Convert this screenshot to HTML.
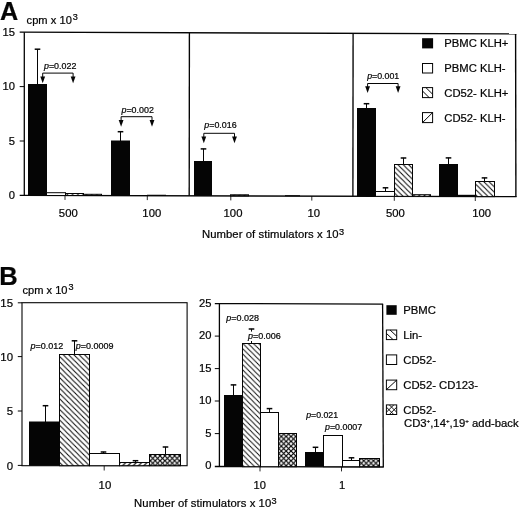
<!DOCTYPE html>
<html><head><meta charset="utf-8"><title>Figure</title>
<style>
html,body{margin:0;padding:0;background:#fff;}
body{width:520px;height:511px;overflow:hidden;font-family:"Liberation Sans",sans-serif;}
text{stroke:#050505;stroke-width:0.22px;}
svg{display:block;will-change:transform;font-family:"Liberation Sans",sans-serif;fill:#050505;}
</style></head><body>
<svg width="520" height="511" viewBox="0 0 520 511">
<defs>
<pattern id="hb" patternUnits="userSpaceOnUse" width="5.3" height="5.3">
<rect width="5.3" height="5.3" fill="#fff"/>
<path d="M-1,-1 L6.3,6.3 M-1,4.3 L1,6.3 M4.3,-1 L6.3,1" stroke="#050505" stroke-width="1.0" fill="none"/>
</pattern>
<pattern id="hb2" patternUnits="userSpaceOnUse" width="5.3" height="5.3">
<rect width="5.3" height="5.3" fill="#fff"/>
<path d="M-1,-1 L6.3,6.3 M-1,4.3 L1,6.3 M4.3,-1 L6.3,1" stroke="#050505" stroke-width="0.9" fill="none"/>
</pattern>
<pattern id="hf" patternUnits="userSpaceOnUse" width="5.3" height="5.3">
<rect width="5.3" height="5.3" fill="#fff"/>
<path d="M-1,6.3 L6.3,-1 M-1,1 L1,-1 M4.3,6.3 L6.3,4.3" stroke="#050505" stroke-width="1.12" fill="none"/>
</pattern>
<pattern id="hx" patternUnits="userSpaceOnUse" width="4.85" height="4.85">
<rect width="4.85" height="4.85" fill="#fff"/>
<path d="M-1,-1 L5.85,5.85 M-1,5.85 L5.85,-1" stroke="#050505" stroke-width="1.18" fill="none"/>
</pattern>
</defs>
<rect width="520" height="511" fill="#fff"/>
<text x="-0.1" y="19.9" font-size="25.2" font-weight="bold">A</text>
<text x="26.6" y="24.4" font-size="11.1" textLength="45.2" lengthAdjust="spacing">cpm x 10</text>
<text x="72.7" y="20.3" font-size="9.1">3</text>
<line x1="19.7" y1="32.2" x2="516.4" y2="33.9" stroke="#050505" stroke-width="1.3"/>
<line x1="19.7" y1="195.35" x2="516.6" y2="196.65" stroke="#050505" stroke-width="1.35"/>
<line x1="24.3" y1="32.2" x2="24.3" y2="195.4" stroke="#050505" stroke-width="1.3"/>
<line x1="515.6" y1="33.9" x2="515.9" y2="196.65" stroke="#050505" stroke-width="1.4"/>
<line x1="189.4" y1="32.8" x2="189.2" y2="195.8" stroke="#050505" stroke-width="1.35"/>
<line x1="353.1" y1="33.3" x2="352.9" y2="196.2" stroke="#050505" stroke-width="1.35"/>
<text x="15.0" y="35.900000000000006" font-size="11.2" text-anchor="end" >15</text>
<line x1="19.7" y1="86.6" x2="24.3" y2="86.6" stroke="#050505" stroke-width="1.0"/>
<text x="15.0" y="90.3" font-size="11.2" text-anchor="end" >10</text>
<line x1="19.7" y1="141.0" x2="24.3" y2="141.0" stroke="#050505" stroke-width="1.0"/>
<text x="15.0" y="144.7" font-size="11.2" text-anchor="end" >5</text>
<text x="15.0" y="199.1" font-size="11.2" text-anchor="end" >0</text>
<line x1="65" y1="195.4" x2="65" y2="199.9" stroke="#050505" stroke-width="0.85"/>
<line x1="147.3" y1="195.6" x2="147.3" y2="200.1" stroke="#050505" stroke-width="0.85"/>
<line x1="230.8" y1="195.9" x2="230.8" y2="200.4" stroke="#050505" stroke-width="0.85"/>
<line x1="311.8" y1="196.1" x2="311.8" y2="200.6" stroke="#050505" stroke-width="0.85"/>
<line x1="394.3" y1="196.3" x2="394.3" y2="200.8" stroke="#050505" stroke-width="0.85"/>
<line x1="475.3" y1="196.5" x2="475.3" y2="201.0" stroke="#050505" stroke-width="0.85"/>
<text x="68.3" y="217.4" font-size="11.3" text-anchor="middle" >500</text>
<text x="151.8" y="217.4" font-size="11.3" text-anchor="middle" >100</text>
<text x="233" y="217.4" font-size="11.3" text-anchor="middle" >100</text>
<text x="313.8" y="217.4" font-size="11.3" text-anchor="middle" >10</text>
<text x="395.4" y="217.4" font-size="11.3" text-anchor="middle" >500</text>
<text x="481.6" y="217.4" font-size="11.3" text-anchor="middle" >100</text>
<text x="201.9" y="238.1" font-size="11.3" textLength="136.7" lengthAdjust="spacing">Number of stimulators x 10</text>
<text x="338.9" y="234.5" font-size="9.2">3</text>
<line x1="37.5" y1="49" x2="37.5" y2="90" stroke="#050505" stroke-width="1.0"/>
<line x1="34.7" y1="49.2" x2="40.3" y2="49.2" stroke="#050505" stroke-width="1.5"/>
<rect x="28" y="84.0" width="19" height="111.5" fill="#050505"/>
<rect x="46.5" y="192.7" width="19.0" height="2.8" fill="#fff" stroke="#050505" stroke-width="1.0"/>
<rect x="65.5" y="193.5" width="18.0" height="2.0" fill="url(#hb)" stroke="#050505" stroke-width="1.0"/>
<rect x="83.5" y="194.3" width="18.0" height="1.2" fill="url(#hf)" stroke="#050505" stroke-width="1.0"/>
<line x1="120.5" y1="131.5" x2="120.5" y2="145" stroke="#050505" stroke-width="1.0"/>
<line x1="117.7" y1="131.7" x2="123.3" y2="131.7" stroke="#050505" stroke-width="1.5"/>
<rect x="111" y="140.5" width="19" height="55.15" fill="#050505"/>
<line x1="147" y1="195.3" x2="166" y2="195.35" stroke="#050505" stroke-width="1.2"/>
<line x1="203.5" y1="148.7" x2="203.5" y2="165" stroke="#050505" stroke-width="1.0"/>
<line x1="200.7" y1="148.89999999999998" x2="206.3" y2="148.89999999999998" stroke="#050505" stroke-width="1.5"/>
<rect x="194" y="161.0" width="18" height="34.9" fill="#050505"/>
<rect x="230.5" y="194.8" width="18.0" height="1.1" fill="url(#hf)" stroke="#050505" stroke-width="1.0"/>
<line x1="285" y1="195.7" x2="300" y2="195.75" stroke="#050505" stroke-width="1.0"/>
<line x1="366.5" y1="103.5" x2="366.5" y2="112" stroke="#050505" stroke-width="1.0"/>
<line x1="363.7" y1="103.7" x2="369.3" y2="103.7" stroke="#050505" stroke-width="1.5"/>
<rect x="357" y="108.0" width="19" height="88.35" fill="#050505"/>
<line x1="385.5" y1="187.6" x2="385.5" y2="191" stroke="#050505" stroke-width="1.0"/>
<line x1="382.7" y1="187.79999999999998" x2="388.3" y2="187.79999999999998" stroke="#050505" stroke-width="1.5"/>
<rect x="375.5" y="191.5" width="19.0" height="4.85" fill="#fff" stroke="#050505" stroke-width="1.0"/>
<line x1="403.5" y1="157.8" x2="403.5" y2="165" stroke="#050505" stroke-width="1.0"/>
<line x1="400.7" y1="158.0" x2="406.3" y2="158.0" stroke="#050505" stroke-width="1.5"/>
<rect x="394.5" y="164.5" width="18.0" height="31.85" fill="url(#hb)" stroke="#050505" stroke-width="1.0"/>
<rect x="412.5" y="194.7" width="18.0" height="1.65" fill="url(#hf)" stroke="#050505" stroke-width="1.0"/>
<line x1="448.5" y1="157.7" x2="448.5" y2="168" stroke="#050505" stroke-width="1.0"/>
<line x1="445.7" y1="157.89999999999998" x2="451.3" y2="157.89999999999998" stroke="#050505" stroke-width="1.5"/>
<rect x="439" y="164.0" width="19" height="32.6" fill="#050505"/>
<rect x="457.7" y="194.8" width="17.6" height="1.9" fill="#050505"/>
<line x1="484.5" y1="177.7" x2="484.5" y2="182" stroke="#050505" stroke-width="1.0"/>
<line x1="481.7" y1="177.89999999999998" x2="487.3" y2="177.89999999999998" stroke="#050505" stroke-width="1.5"/>
<rect x="475.5" y="181.5" width="19.0" height="15.1" fill="url(#hb)" stroke="#050505" stroke-width="1.0"/>
<line x1="42.7" y1="73.1" x2="73.1" y2="73.1" stroke="#050505" stroke-width="1.0"/>
<line x1="42.7" y1="73.1" x2="42.7" y2="79.0" stroke="#050505" stroke-width="1.0"/>
<path d="M40.3,76.4 L45.1,76.4 L42.7,83.3 Z" fill="#050505"/>
<line x1="73.1" y1="73.1" x2="73.1" y2="79.0" stroke="#050505" stroke-width="1.0"/>
<path d="M70.7,76.4 L75.5,76.4 L73.1,83.3 Z" fill="#050505"/>
<text x="44.0" y="68.9" font-size="8.9"><tspan font-style="italic">p</tspan>=0.022</text>
<line x1="121.1" y1="116.7" x2="152" y2="116.7" stroke="#050505" stroke-width="1.0"/>
<line x1="121.1" y1="116.7" x2="121.1" y2="122.5" stroke="#050505" stroke-width="1.0"/>
<path d="M118.7,119.9 L123.5,119.9 L121.1,126.8 Z" fill="#050505"/>
<line x1="152" y1="116.7" x2="152" y2="122.5" stroke="#050505" stroke-width="1.0"/>
<path d="M149.6,119.9 L154.4,119.9 L152,126.8 Z" fill="#050505"/>
<text x="121.5" y="112.7" font-size="8.9"><tspan font-style="italic">p</tspan>=0.002</text>
<line x1="203.8" y1="133.3" x2="234.5" y2="133.3" stroke="#050505" stroke-width="1.0"/>
<line x1="203.8" y1="133.3" x2="203.8" y2="139.0" stroke="#050505" stroke-width="1.0"/>
<path d="M201.4,136.4 L206.2,136.4 L203.8,143.3 Z" fill="#050505"/>
<line x1="234.5" y1="133.3" x2="234.5" y2="139.0" stroke="#050505" stroke-width="1.0"/>
<path d="M232.1,136.4 L236.9,136.4 L234.5,143.3 Z" fill="#050505"/>
<text x="204.3" y="128.1" font-size="8.9"><tspan font-style="italic">p</tspan>=0.016</text>
<line x1="367.6" y1="83.5" x2="398.1" y2="83.5" stroke="#050505" stroke-width="1.0"/>
<line x1="367.6" y1="83.5" x2="367.6" y2="88.8" stroke="#050505" stroke-width="1.0"/>
<path d="M365.2,86.2 L370.0,86.2 L367.6,93.1 Z" fill="#050505"/>
<line x1="398.1" y1="83.5" x2="398.1" y2="88.8" stroke="#050505" stroke-width="1.0"/>
<path d="M395.7,86.2 L400.5,86.2 L398.1,93.1 Z" fill="#050505"/>
<text x="367.2" y="78.6" font-size="8.8"><tspan font-style="italic">p</tspan>=0.001</text>
<rect x="422.1" y="38.2" width="11.0" height="10.2" fill="#050505"/>
<text x="444.3" y="47.0" font-size="11.25" text-anchor="start" >PBMC KLH+</text>
<rect x="422.5" y="63.5" width="10.1" height="9.5" fill="#fff" stroke="#050505" stroke-width="1.0"/>
<text x="444.3" y="71.9" font-size="11.25" text-anchor="start" >PBMC KLH-</text>
<rect x="422.5" y="87.6" width="10.1" height="10.0" fill="#fff" stroke="#050505" stroke-width="1.0"/>
<path d="M422.5,91.0 L429.17,97.6 M425.93,87.6 L432.6,94.2" stroke="#050505" stroke-width="1.0" fill="none"/>
<text x="444.3" y="96.6" font-size="11.25" text-anchor="start" >CD52- KLH+</text>
<rect x="422.5" y="112.6" width="10.1" height="10.0" fill="#fff" stroke="#050505" stroke-width="1.0"/>
<path d="M422.5,122.6 L432.6,112.6" stroke="#050505" stroke-width="1.0" fill="none"/>
<text x="444.3" y="121.5" font-size="11.25" text-anchor="start" >CD52- KLH-</text>
<text x="-0.8" y="284.8" font-size="25.5" font-weight="bold">B</text>
<text x="22.4" y="293.9" font-size="11.1" textLength="45.1" lengthAdjust="spacing">cpm x 10</text>
<text x="68.4" y="289.9" font-size="9.1">3</text>
<rect x="22.0" y="302.7" width="165.1" height="163.0" fill="none" stroke="#050505" stroke-width="1.1"/>
<line x1="17.8" y1="302.8" x2="22.0" y2="302.8" stroke="#050505" stroke-width="1.0"/>
<text x="13.0" y="306.90000000000003" font-size="11.4" text-anchor="end" >15</text>
<line x1="17.8" y1="356.6" x2="22.0" y2="356.6" stroke="#050505" stroke-width="1.0"/>
<text x="13.0" y="360.70000000000005" font-size="11.4" text-anchor="end" >10</text>
<line x1="17.8" y1="411.0" x2="22.0" y2="411.0" stroke="#050505" stroke-width="1.0"/>
<text x="13.0" y="415.1" font-size="11.4" text-anchor="end" >5</text>
<line x1="17.8" y1="465.4" x2="22.0" y2="465.4" stroke="#050505" stroke-width="1.0"/>
<text x="13.0" y="469.5" font-size="11.4" text-anchor="end" >0</text>
<line x1="104.2" y1="465.7" x2="104.2" y2="470.5" stroke="#050505" stroke-width="0.85"/>
<text x="104.9" y="489.2" font-size="11.4" text-anchor="middle" >10</text>
<line x1="45.5" y1="405.5" x2="45.5" y2="425" stroke="#050505" stroke-width="1.0"/>
<line x1="42.7" y1="405.7" x2="48.3" y2="405.7" stroke="#050505" stroke-width="1.5"/>
<rect x="29" y="421.5" width="30" height="44.2" fill="#050505"/>
<line x1="74.5" y1="340.6" x2="74.5" y2="355" stroke="#050505" stroke-width="1.0"/>
<line x1="71.7" y1="340.8" x2="77.3" y2="340.8" stroke="#050505" stroke-width="1.5"/>
<rect x="59.5" y="354.5" width="30.0" height="111.2" fill="url(#hb)" stroke="#050505" stroke-width="1.0"/>
<line x1="103.5" y1="451.8" x2="103.5" y2="453" stroke="#050505" stroke-width="1.0"/>
<line x1="100.7" y1="452.0" x2="106.3" y2="452.0" stroke="#050505" stroke-width="1.5"/>
<rect x="89.5" y="453.5" width="30.0" height="12.2" fill="#fff" stroke="#050505" stroke-width="1.0"/>
<line x1="135.5" y1="460.5" x2="135.5" y2="462" stroke="#050505" stroke-width="1.0"/>
<line x1="132.7" y1="460.7" x2="138.3" y2="460.7" stroke="#050505" stroke-width="1.5"/>
<rect x="119.5" y="462.5" width="30.0" height="3.2" fill="url(#hf)" stroke="#050505" stroke-width="1.0"/>
<line x1="165.5" y1="446.8" x2="165.5" y2="455" stroke="#050505" stroke-width="1.0"/>
<line x1="162.7" y1="447.0" x2="168.3" y2="447.0" stroke="#050505" stroke-width="1.5"/>
<rect x="149.5" y="454.5" width="31.0" height="11.2" fill="url(#hx)" stroke="#050505" stroke-width="1.0"/>
<text x="30.5" y="348.5" font-size="9.0"><tspan font-style="italic">p</tspan>=0.012</text>
<text x="75.8" y="348.5" font-size="9.0"><tspan font-style="italic">p</tspan>=0.0009</text>
<text x="134.0" y="507.2" font-size="11.3" textLength="137.3" lengthAdjust="spacing">Number of stimulators x 10</text>
<text x="271.6" y="503.5" font-size="9.2">3</text>
<line x1="214.8" y1="303.6" x2="383.1" y2="304.1" stroke="#050505" stroke-width="1.3"/>
<line x1="214.8" y1="466.5" x2="383.8" y2="466.95" stroke="#050505" stroke-width="1.35"/>
<line x1="219.4" y1="303.6" x2="219.4" y2="466.5" stroke="#050505" stroke-width="1.3"/>
<line x1="382.6" y1="304.1" x2="383.3" y2="466.95" stroke="#050505" stroke-width="1.3"/>
<text x="211.5" y="306.8" font-size="11.2" text-anchor="end" >25</text>
<line x1="214.8" y1="336.1" x2="219.4" y2="336.1" stroke="#050505" stroke-width="1.0"/>
<text x="211.5" y="339.3" font-size="11.2" text-anchor="end" >20</text>
<line x1="214.8" y1="368.6" x2="219.4" y2="368.6" stroke="#050505" stroke-width="1.0"/>
<text x="211.5" y="371.8" font-size="11.2" text-anchor="end" >15</text>
<line x1="214.8" y1="401.0" x2="219.4" y2="401.0" stroke="#050505" stroke-width="1.0"/>
<text x="211.5" y="404.2" font-size="11.2" text-anchor="end" >10</text>
<line x1="214.8" y1="433.6" x2="219.4" y2="433.6" stroke="#050505" stroke-width="1.0"/>
<text x="211.5" y="436.8" font-size="11.2" text-anchor="end" >5</text>
<text x="211.5" y="469.4" font-size="11.2" text-anchor="end" >0</text>
<line x1="260" y1="466.7" x2="260" y2="471.4" stroke="#050505" stroke-width="0.85"/>
<line x1="341.5" y1="466.7" x2="341.5" y2="471.4" stroke="#050505" stroke-width="0.85"/>
<text x="259.7" y="489.3" font-size="11.1" text-anchor="middle" >10</text>
<text x="342" y="489.3" font-size="11.2" text-anchor="middle" >1</text>
<line x1="233.5" y1="384.7" x2="233.5" y2="398" stroke="#050505" stroke-width="1.0"/>
<line x1="230.7" y1="384.9" x2="236.3" y2="384.9" stroke="#050505" stroke-width="1.5"/>
<rect x="224" y="395.0" width="18" height="71.7" fill="#050505"/>
<line x1="251.5" y1="328.8" x2="251.5" y2="345" stroke="#050505" stroke-width="1.0"/>
<line x1="248.7" y1="329.0" x2="254.3" y2="329.0" stroke="#050505" stroke-width="1.5"/>
<rect x="242.5" y="343.5" width="18.0" height="123.2" fill="url(#hb2)" stroke="#050505" stroke-width="1.0"/>
<line x1="269.5" y1="408.4" x2="269.5" y2="413" stroke="#050505" stroke-width="1.0"/>
<line x1="266.7" y1="408.59999999999997" x2="272.3" y2="408.59999999999997" stroke="#050505" stroke-width="1.5"/>
<rect x="260.5" y="412.5" width="18.0" height="54.2" fill="#fff" stroke="#050505" stroke-width="1.0"/>
<rect x="278.5" y="433.5" width="18.0" height="33.2" fill="url(#hx)" stroke="#050505" stroke-width="1.0"/>
<line x1="315.5" y1="447.1" x2="315.5" y2="453" stroke="#050505" stroke-width="1.0"/>
<line x1="312.7" y1="447.3" x2="318.3" y2="447.3" stroke="#050505" stroke-width="1.5"/>
<rect x="305" y="452.0" width="19" height="14.7" fill="#050505"/>
<rect x="323.5" y="435.5" width="19.0" height="31.2" fill="#fff" stroke="#050505" stroke-width="1.0"/>
<line x1="351.5" y1="457.6" x2="351.5" y2="461" stroke="#050505" stroke-width="1.0"/>
<line x1="348.7" y1="457.8" x2="354.3" y2="457.8" stroke="#050505" stroke-width="1.5"/>
<rect x="342.5" y="460.5" width="17.0" height="6.2" fill="#fff" stroke="#050505" stroke-width="1.0"/>
<rect x="359.5" y="458.5" width="20.0" height="8.2" fill="url(#hx)" stroke="#050505" stroke-width="1.0"/>
<text x="226.3" y="321.3" font-size="9.0"><tspan font-style="italic">p</tspan>=0.028</text>
<rect x="247.2" y="331.6" width="33" height="9.4" fill="#fff"/>
<text x="248" y="338.8" font-size="9.0"><tspan font-style="italic">p</tspan>=0.006</text>
<text x="306.2" y="417.9" font-size="8.75"><tspan font-style="italic">p</tspan>=0.021</text>
<text x="325" y="430.0" font-size="8.85"><tspan font-style="italic">p</tspan>=0.0007</text>
<rect x="386.4" y="305.2" width="10.3" height="9.6" fill="#050505"/>
<text x="403.3" y="313.8" font-size="11.3" text-anchor="start" >PBMC</text>
<rect x="386.4" y="330.0" width="10.3" height="9.6" fill="#fff" stroke="#050505" stroke-width="1.0"/>
<path d="M386.4,333.4 L393.05,339.6 M390.05,330.0 L396.7,336.2" stroke="#050505" stroke-width="1.0" fill="none"/>
<text x="403.3" y="338.6" font-size="11.3" text-anchor="start" >Lin-</text>
<rect x="386.4" y="354.9" width="10.3" height="9.6" fill="#fff" stroke="#050505" stroke-width="1.0"/>
<text x="403.3" y="363.5" font-size="11.3" text-anchor="start" >CD52-</text>
<rect x="386.4" y="380.1" width="10.3" height="9.6" fill="#fff" stroke="#050505" stroke-width="1.0"/>
<path d="M386.4,389.7 L396.7,380.1" stroke="#050505" stroke-width="1.0" fill="none"/>
<text x="403.3" y="388.7" font-size="11.3" text-anchor="start" >CD52- CD123-</text>
<rect x="386.4" y="404.9" width="10.3" height="9.6" fill="#fff" stroke="#050505" stroke-width="1.0"/>
<clipPath id="c404"><rect x="386.4" y="404.9" width="10.3" height="9.6"/></clipPath>
<path d="M383.54999999999995,404.3 L399.54999999999995,420.3 M383.54999999999995,399.09999999999997 L399.54999999999995,415.09999999999997 M383.54999999999995,420.3 L399.54999999999995,404.3 M383.54999999999995,415.09999999999997 L399.54999999999995,399.09999999999997" stroke="#050505" stroke-width="0.95" fill="none" clip-path="url(#c404)"/>
<text x="403.3" y="413.5" font-size="11.3" text-anchor="start" >CD52-</text>
<text x="404" y="427.3" font-size="11.3">CD3<tspan dy="-4.8" font-size="6.2">+</tspan><tspan dy="4.8">,14</tspan><tspan dy="-4.8" font-size="6.2">+</tspan><tspan dy="4.8">,19</tspan><tspan dy="-4.8" font-size="6.2">+</tspan><tspan dy="4.8"> add-back</tspan></text>
</svg>
</body></html>
